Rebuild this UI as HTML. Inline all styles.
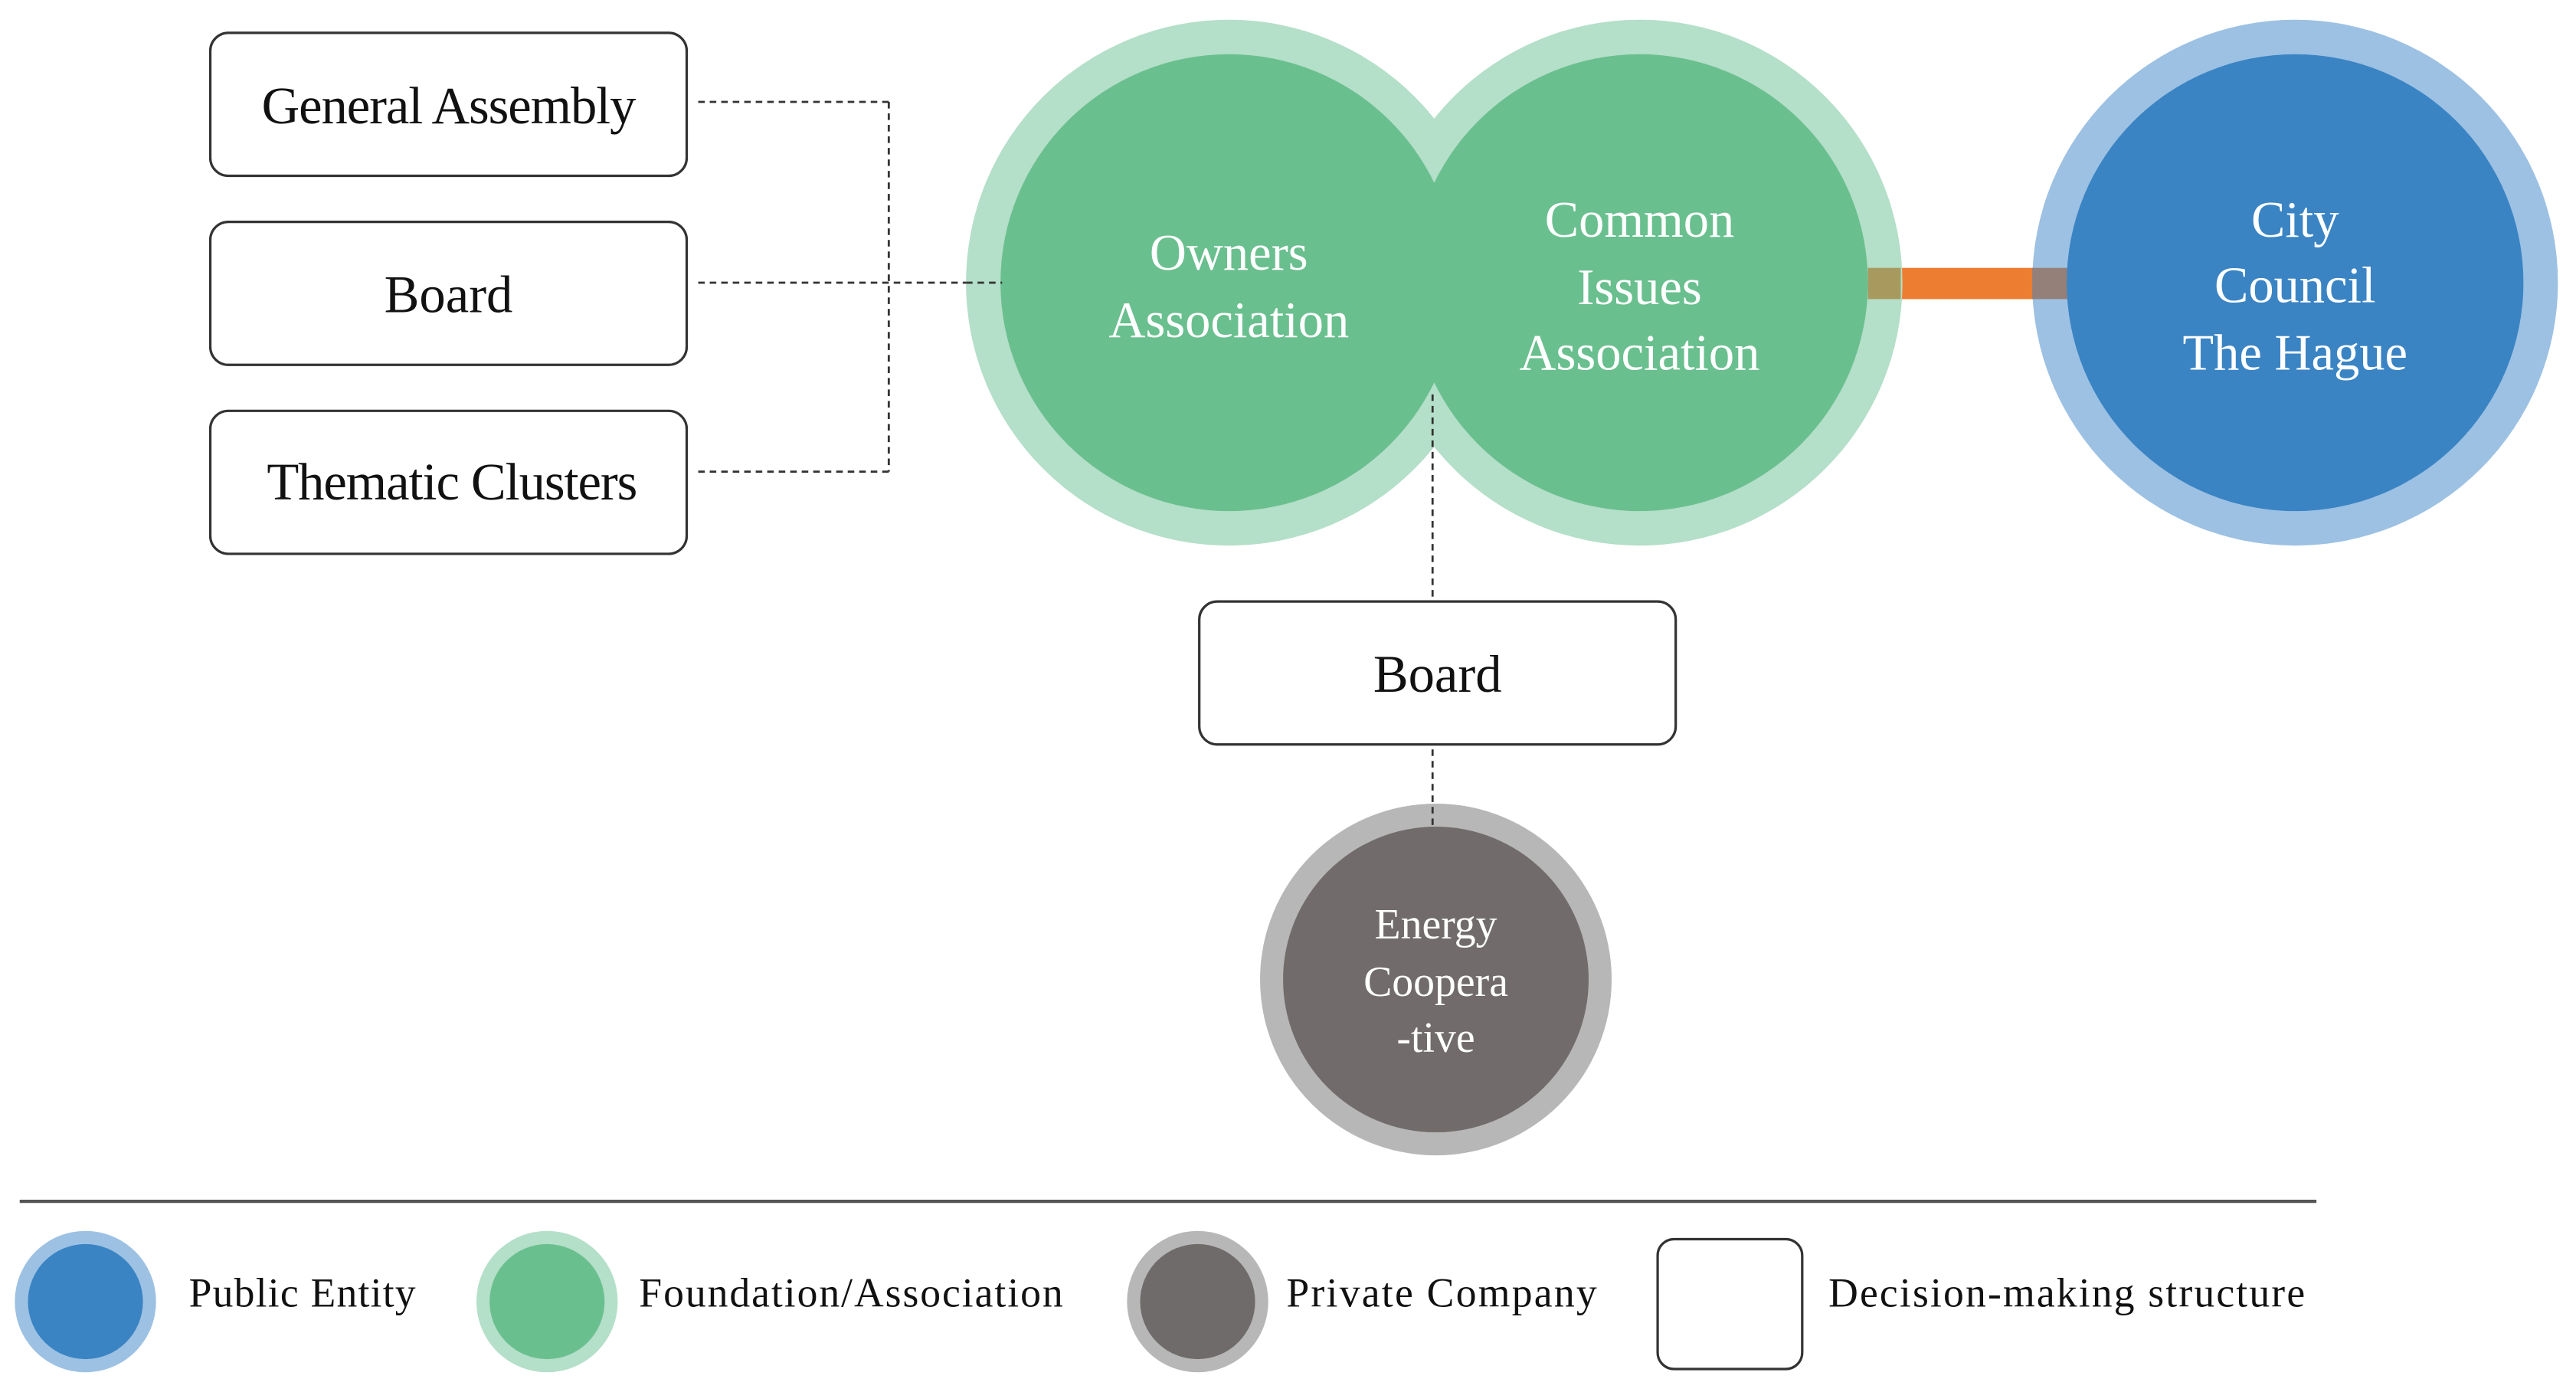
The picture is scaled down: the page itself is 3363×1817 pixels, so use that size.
<!DOCTYPE html>
<html><head><meta charset="utf-8"><style>
html,body{margin:0;padding:0;background:#fff;}
svg{display:block;}
text{font-family:"Liberation Serif",serif;}
</style></head><body>
<svg width="3363" height="1817" viewBox="0 0 1568 847" preserveAspectRatio="none" xmlns="http://www.w3.org/2000/svg">
<rect width="1568" height="847" fill="#fff"/>
<g stroke="#333" stroke-width="1.3" stroke-dasharray="4,3" fill="none">
<line x1="425" y1="62" x2="541" y2="62"/>
<line x1="425" y1="287" x2="541" y2="287"/>
<line x1="541" y1="62" x2="541" y2="287"/>
<line x1="425" y1="172" x2="588" y2="172"/>
</g>
<g fill="#fff" stroke="#333" stroke-width="1.5">
<rect x="128" y="20" width="290" height="87" rx="11"/>
<rect x="128" y="135" width="290" height="87" rx="11"/>
<rect x="128" y="250" width="290" height="87" rx="11"/>
<rect x="730" y="366" width="290" height="87" rx="11"/>
</g>
<g font-size="32" text-anchor="middle" fill="#111">
<text x="273" y="75" letter-spacing="-0.5">General Assembly</text>
<text x="273" y="190">Board</text>
<text x="275" y="304" letter-spacing="-0.5">Thematic Clusters</text>
<text x="875" y="421">Board</text>
</g>
<rect x="1137" y="163" width="120" height="19" fill="#ed7d31"/>
<circle cx="748" cy="172" r="160" fill="#b4dfc8"/>
<circle cx="998" cy="172" r="160" fill="#b4dfc8"/>
<circle cx="748" cy="172" r="139" fill="#6abf8f"/>
<circle cx="998" cy="172" r="139" fill="#6abf8f"/>
<line x1="588" y1="172" x2="610" y2="172" stroke="#333" stroke-width="1.3" stroke-dasharray="4,3"/>
<line x1="872" y1="240" x2="872" y2="366" stroke="#333" stroke-width="1.3" stroke-dasharray="4,3"/>
<rect x="1137" y="163" width="20" height="19" fill="#a89a5e"/>
<circle cx="1397" cy="172" r="160" fill="#9dc1e3"/>
<rect x="1237" y="163" width="22" height="19" fill="#958079"/>
<circle cx="1397" cy="172" r="139" fill="#3a84c4"/>
<circle cx="874" cy="596" r="107" fill="#b8b7b7"/>
<circle cx="874" cy="596" r="93" fill="#716c6b"/>
<line x1="872" y1="456" x2="872" y2="503" stroke="#333" stroke-width="1.3" stroke-dasharray="4,3"/>
<g fill="#fff" text-anchor="middle" font-size="31">
<text x="748" y="164">Owners</text>
<text x="748" y="205">Association</text>
<text x="998" y="144">Common</text>
<text x="998" y="185">Issues</text>
<text x="998" y="225">Association</text>
<text x="1397" y="144">City</text>
<text x="1397" y="184">Council</text>
<text x="1397" y="225">The Hague</text>
</g>
<g fill="#fff" text-anchor="middle" font-size="26">
<text x="874" y="571">Energy</text>
<text x="874" y="606">Coopera</text>
<text x="874" y="640">-tive</text>
</g>
<line x1="12" y1="731" x2="1410" y2="731" stroke="#555" stroke-width="2"/>
<circle cx="52" cy="792" r="43" fill="#9dc1e3"/><circle cx="52" cy="792" r="35" fill="#3a84c4"/>
<circle cx="333" cy="792" r="43" fill="#b4dfc8"/><circle cx="333" cy="792" r="35" fill="#6abf8f"/>
<circle cx="729" cy="792" r="43" fill="#b8b7b7"/><circle cx="729" cy="792" r="35" fill="#6f6b6a"/>
<rect x="1009" y="754" width="88" height="79" rx="10" fill="#fff" stroke="#333" stroke-width="1.5"/>
<g font-size="25" fill="#111">
<text x="115" y="795" textLength="138">Public  Entity</text>
<text x="389" y="795" textLength="258">Foundation/Association</text>
<text x="783" y="795" textLength="189">Private  Company</text>
<text x="1113" y="795" textLength="290">Decision-making  structure</text>
</g>
</svg>
</body></html>
